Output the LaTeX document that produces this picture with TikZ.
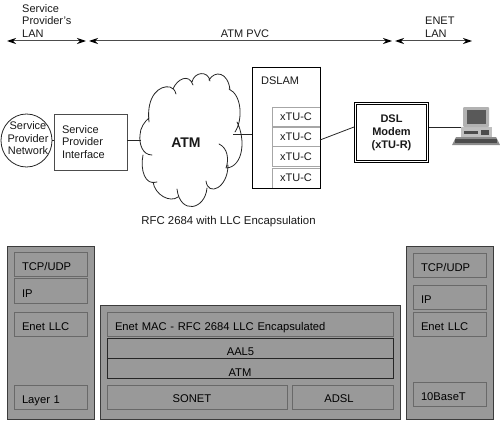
\documentclass[tikz,border=0pt]{standalone}
\usepackage{fontspec}
\usepackage{xcolor}
\usepackage{tikz}
\usetikzlibrary{arrows.meta,shapes.geometric}
\setmainfont{Liberation Sans}
\definecolor{stackgray}{RGB}{153,153,153}
\definecolor{stackedge}{RGB}{105,105,105}
\definecolor{paneledge}{RGB}{60,60,60}
\tikzset{
  txt/.style={font=\fontsize{11}{12.5}\selectfont,align=left,inner sep=0pt,text=black!90},
  stacktxt/.style={font=\fontsize{11.2}{12.5}\selectfont,inner sep=0pt,text=black},
  spanarrow/.style={{Stealth[length=9pt,width=6pt,black]}-{Stealth[length=9pt,width=6pt,black]},line width=1pt,black!70},
  link/.style={line width=0.8pt,black!85},
  whitebox/.style={draw=black!70,line width=0.8pt,fill=white,inner sep=0pt},
  xtubox/.style={draw=black!35,line width=0.7pt,fill=white,inner sep=0pt,minimum width=48pt,
    font=\fontsize{11}{12.5}\selectfont,text=black!90},
  panel/.style={draw=paneledge,line width=1pt,fill=stackgray},
  layerbox/.style={draw=stackedge,line width=0.7pt,fill=stackgray,minimum height=24.5pt,inner ysep=0pt,
    font=\fontsize{11.2}{12.5}\selectfont,text=black,text height=12pt,text depth=0pt},
  stackbox/.style={layerbox,inner xsep=8pt,text width=57.5pt,align=left},
  atmbox/.style={layerbox,draw=black!85,line width=1pt,minimum width=286pt,minimum height=20pt}
}
\begin{document}
\begin{tikzpicture}[x=1pt,y=-1pt]
  \useasboundingbox (0,0) rectangle (500,420);

  % spans along the top
  \node[txt,anchor=west] (lantxt) at (22,21) {Service\\Provider's\\LAN};
  \node[txt] (pvctxt) at (245,34) {ATM PVC};
  \node[txt,anchor=west] (enettxt) at (425,27) {ENET\\LAN};
  \coordinate (a1) at (7,41);
  \coordinate (a2) at (86,41);
  \coordinate (a3) at (89,41);
  \coordinate (a4) at (392,41);
  \coordinate (a5) at (395,41);
  \coordinate (a6) at (472,41);
  \draw[spanarrow] (a1) -- (a2);
  \draw[spanarrow] (a3) -- (a4);
  \draw[spanarrow] (a5) -- (a6);

  % network
  \node[draw=black!85,line width=0.8pt,ellipse,inner sep=0pt,minimum width=51pt,minimum height=53pt] (spnet) at (26.5,140.5) {};
  \node[txt,align=center] (spnettxt) at (28,138.5) {Service\\Provider\\Network};
  \node[whitebox,minimum width=73pt,minimum height=56pt,txt,draw=black!70,inner xsep=8pt,text width=57pt] (spif) at (90.5,142) {Service\\Provider\\Interface};

  % cloud
  \draw[line width=0.8pt,black!85,line cap=round]
    (149,122) .. controls (146,95) and (160,85) .. (170,87) .. controls (173,88) and (175,90) .. (176,94)
    (173,89) .. controls (177,79) and (189,73) .. (193,85)
    (192,82) .. controls (194,72) and (208,70) .. (210,81)
    (209,80) .. controls (215,70) and (228,72) .. (230,90)
    (229,89) .. controls (242,95) and (243,120) .. (235,132)
    (237,122) .. controls (246,140) and (243,166) .. (227,168)
    (219,144) .. controls (228,148) and (229,160) .. (226,168)
    (228,165) .. controls (228,188) and (208,197) .. (206,181)
    (207,188) .. controls (205,210) and (180,215) .. (177,189)
    (178,197) .. controls (170,203) and (155,195) .. (153,182)
    (157,182) .. controls (145,186) and (140,170) .. (143,155)
    (152,155) .. controls (142,155) and (139,143) .. (140,135) .. controls (140,128) and (145,121) .. (149,118);
  \node[font=\fontsize{14}{16}\selectfont\bfseries,inner sep=0pt,text=black!90] (atm) at (186,143) {ATM};
  \coordinate (atmw) at (141,140.5);
  \coordinate (atme) at (233,134);

  % dslam
  \node[draw=black,line width=1pt,fill=white,minimum width=68pt,minimum height=121pt,inner sep=0pt] (dslam) at (286,127.5) {};
  \node[txt,anchor=west] (dslamtxt) at (261,81) {DSLAM};
  \node[xtubox,minimum height=18.5pt] (xtu1) at (296,117) {xTU-C};
  \node[xtubox,minimum height=19pt] (xtu2) at (296,136.5) {xTU-C};
  \node[xtubox,minimum height=19.5pt] (xtu3) at (296,156.5) {xTU-C};
  \node[xtubox,minimum height=20pt] (xtu4) at (296,178) {xTU-C};
  \draw[line width=1pt,black] (dslam.north east) -- (dslam.south east) -- (dslam.south west);

  % modem and pc
  \node[draw=black,line width=0.9pt,double=white,double distance=1.4pt,fill=white,minimum width=72pt,minimum height=58pt,inner sep=0pt,
    font=\fontsize{11}{13}\selectfont\bfseries,align=center,text=black!90] (modem) at (391.5,132.5) {DSL\\Modem\\(xTU-R)};
  \coordinate (xtuout) at (320,140);
  \coordinate (modemin) at (354,127);
  \coordinate (modemout) at (429,127);
  \coordinate (pcport) at (463,127);

  \draw[link] (spif.west |- spnet.east) -- (spnet.east);
  \draw[link] (spif.east |- atmw) -- (atmw);
  \draw[link] (atme) -- (dslam.west |- atme);
  \draw[link] (xtuout) -- (modemin);
  \draw[link] (modemout) -- (pcport);

  % pc icon
  \fill[black!45] (452,145) -- (456,137) -- (496,137) -- (500,145) -- cycle;
  \fill[black!25] (461,127) rectangle (492,137);
  \fill[black!70] (464,131) rectangle (478,134);
  \fill[black!70] (481,130) rectangle (489,135);
  \fill[black!70] (455,139) rectangle (497,143);
  \fill[black!30,rounded corners=1pt] (463,107) rectangle (489,127);
  \fill[black!65] (467,110) rectangle (486,124);

  \node[txt,font=\fontsize{11.4}{12.5}\selectfont] (caption) at (228.5,222) {RFC 2684 with LLC Encapsulation};

  % left stack
  \node[panel,minimum width=87pt,minimum height=173pt,inner sep=0pt] (lstack) at (50.5,332.5) {};
  \node[stackbox] (l1) at (50.75,264.25) {TCP/UDP};
  \node[stackbox] (l2) at (50.75,291) {IP};
  \node[stackbox] (l3) at (50.75,324.25) {Enet LLC};
  \node[stackbox] (l4) at (50.75,397.25) {Layer 1};

  % middle stack
  \node[panel,minimum width=299.5pt,minimum height=113.5pt,inner sep=0pt] (mstack) at (250.25,362.25) {};
  \node[layerbox,minimum width=286.5pt,inner xsep=8pt,text width=270.5pt,align=left] (mac) at (250.25,324.25) {Enet MAC - RFC 2684 LLC Encapsulated};
  \node[atmbox] (aal) at (250.5,348.75) {};
  \node[atmbox] (atmlayer) at (250.5,368.5) {};
  \node[layerbox,minimum width=180pt] (sonet) at (197,397.25) {};
  \node[layerbox,minimum width=101.5pt] (adsl) at (342.75,397.25) {};
  \node[stacktxt] (aaltxt) at (240.5,352) {AAL5};
  \node[stacktxt] (atmtxt) at (240,373) {ATM};
  \node[stacktxt] (sonettxt) at (192,399) {SONET};
  \node[stacktxt] (adsltxt) at (339,399) {ADSL};

  % right stack
  \node[panel,minimum width=87pt,minimum height=173pt,inner sep=0pt] (rstack) at (449.5,332.5) {};
  \node[stackbox] (r1) at (449.75,265.5) {TCP/UDP};
  \node[stackbox] (r2) at (449.75,297.25) {IP};
  \node[stackbox] (r3) at (449.75,324.25) {Enet LLC};
  \node[stackbox] (r4) at (449.75,394.25) {10BaseT};
\end{tikzpicture}
\end{document}
